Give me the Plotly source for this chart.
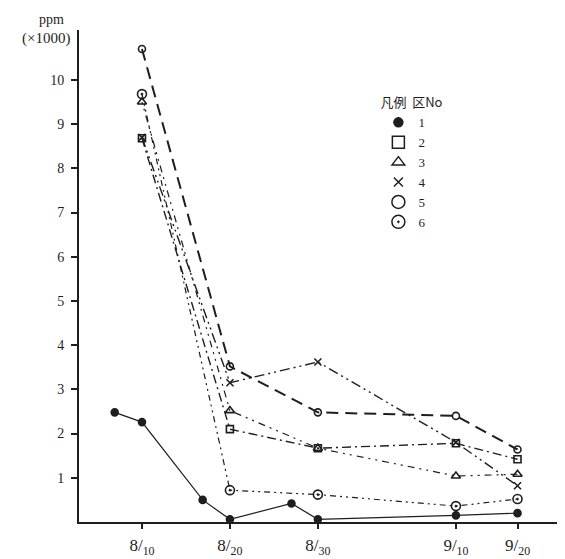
import plotly.graph_objects as go

# x positions of the dates on the (non-linear, hand-drawn) time axis
tick_pos = [0, 1, 2, 3.57, 4.27]
tick_labels = ["8/<sub>10</sub>", "8/<sub>20</sub>", "8/<sub>30</sub>", "9/<sub>10</sub>", "9/<sub>20</sub>"]

# series 1 (区No 1) has extra samples between the dates
s1_x = [-0.31, 0, 0.69, 1, 1.70, 2, 3.57, 4.27]
s1_y = [2.48, 2.26, 0.50, 0.06, 0.42, 0.06, 0.15, 0.20]

s2_y = [8.68, 2.10, 1.67, 1.78, 1.42]
s3_y = [9.50, 2.52, 1.67, 1.04, 1.08]
s4_y = [8.70, 3.15, 3.62, 1.80, 0.82]
s5_y = [10.70, 3.52, 2.48, 2.40, 1.64]
s6_y = [9.68, 0.72, 0.62, 0.36, 0.52]

y_ticks = [1, 2, 3, 4, 5, 6, 7, 8, 9, 10]
legend_names = ["1", "2", "3", "4", "5", "6"]

INK = "#1e1e1e"
SERIF = "Liberation Serif, DejaVu Serif, serif"

fig = go.Figure()

line_specs = [
    (s1_x, s1_y, "solid", 1.2, "circle", 7),
    (tick_pos, s6_y, "6px,4px,2px,4px,2px,4px", 1.2, "circle-open-dot", 9),
    (tick_pos, s3_y, "2px,5px,2px,5px,7px,5px", 1.2, "triangle-up-open", 8),
    (tick_pos, s2_y, "9px,4px,2px,4px", 1.4, "square-open", 7),
    (tick_pos, s4_y, "10px,4px,2px,4px,2px,4px", 1.4, "x-thin-open", 7),
    (tick_pos, s5_y, "12px,7px", 2.0, "circle-open", 7),
]
for xs, ys, dash, w, sym, sz in line_specs:
    fig.add_trace(go.Scatter(
        x=xs, y=ys, mode="lines+markers", showlegend=False,
        line=dict(color=INK, width=w, dash=dash),
        marker=dict(symbol=sym, size=sz, color=INK,
                    line=dict(color=INK, width=1.6)),
        hoverinfo="skip"))

# legend entries: markers only
legend_syms = ["circle", "square-open", "triangle-up-open", "x-thin-open", "circle-open", "circle-open-dot"]
legend_sizes = [9, 12, 11, 9, 13, 13]
for name, sym, sz in zip(legend_names, legend_syms, legend_sizes):
    fig.add_trace(go.Scatter(
        x=[None], y=[None], mode="markers", name=name,
        marker=dict(symbol=sym, size=sz, color=INK,
                    line=dict(color=INK, width=1.5))))

fig.update_layout(
    width=565, height=559,
    margin=dict(l=71, r=8, t=22, b=45),
    paper_bgcolor="white", plot_bgcolor="white",
    font=dict(family=SERIF, color=INK, size=14),
    legend=dict(
        x=0.616, y=0.877, xanchor="left", yanchor="top",
        bgcolor="rgba(0,0,0,0)", tracegroupgap=0,
        itemsizing="trace",
        font=dict(family=SERIF, size=13, color=INK),
        title=dict(text="凡例  区No",
                   font=dict(family="Noto Sans CJK JP", size=13, color=INK)),
    ),
    xaxis=dict(
        range=[-0.716, 4.81], automargin=False,
        tickmode="array", tickvals=tick_pos, ticktext=tick_labels,
        showgrid=False, zeroline=False,
        showline=True, linecolor=INK, linewidth=2,
        ticks="outside", ticklen=5, tickcolor=INK, tickwidth=1.5,
        tickfont=dict(family=SERIF, size=17, color=INK),
        ticklabelstandoff=2,
    ),
    yaxis=dict(
        range=[0, 11.13], automargin=False,
        tickmode="array", tickvals=y_ticks,
        showgrid=False, zeroline=False,
        showline=True, linecolor=INK, linewidth=2,
        ticks="outside", ticklen=6, tickcolor=INK, tickwidth=1.5,
        tickfont=dict(family=SERIF, size=14, color=INK),
        ticklabelstandoff=4,
    ),
)

fig.add_annotation(text="ppm", xref="paper", yref="paper",
                   x=-0.056, y=1.022, xanchor="center", yanchor="middle",
                   showarrow=False, font=dict(family=SERIF, size=14, color=INK))
fig.add_annotation(text="(×1000)", xref="paper", yref="paper",
                   x=-0.0144, y=0.982, xanchor="right", yanchor="middle",
                   showarrow=False, font=dict(family=SERIF, size=15, color=INK))

fig.write_html("out.html")
